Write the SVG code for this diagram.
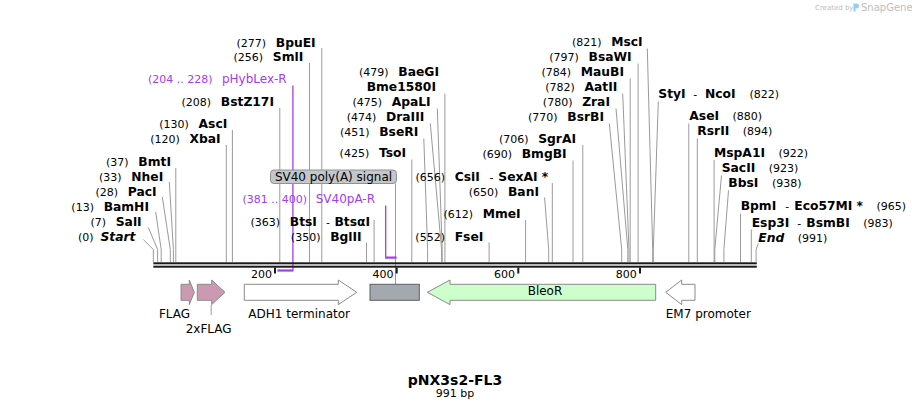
<svg xmlns="http://www.w3.org/2000/svg" width="912" height="411" viewBox="0 0 912 411">
<style>
text{font-family:"DejaVu Sans",Verdana,sans-serif;fill:#000}
.n{font-size:11px;font-weight:normal}
.b{font-size:12.3px;font-weight:bold}
.i{font-style:italic}
.p{fill:#a23cf0}
.f{font-size:12px}
.cut{fill:none;stroke:#9a9a9a;stroke-width:1}
.pl{fill:none;stroke:#a23cf0;stroke-width:1.3}
.pb{fill:none;stroke:#a23cf0;stroke-width:2.2}
.ft{stroke:#8a8a8a;stroke-width:1}
.wm{fill:#bdbdbd}
</style>
<rect width="912" height="411" fill="#fff"/>

<g id="watermark">
<text class="wm" x="815" y="10" font-size="7">Created by</text>
<path d="M853.5,3.5 h3 a2.5,2.5 0 0 1 0,5 h-1 v3 h-2 z" fill="#8fd0f0"/>
<text class="wm" x="861" y="11" font-size="10">SnapGene</text>
</g>

<g id="connectors">
<path class="cut" d="M143.3,239.5 L153.3,249.5 V262"/>
<path class="cut" d="M148.3,227.5 L157.6,249.5 V262"/>
<path class="cut" d="M155.7,212 L161.2,249.5 V262"/>
<path class="cut" d="M162.3,197 L170.3,249.5 V262"/>
<path class="cut" d="M169.3,182 L173.4,249.5 V262"/>
<path class="cut" d="M175.8,168 V262"/>
<path class="cut" d="M226.3,145 V262"/>
<path class="cut" d="M232.4,130 V262"/>
<path class="cut" d="M279.8,108 V262"/>
<path class="cut" d="M309.5,63 V262"/>
<path class="cut" d="M321.8,48 V262"/>
<path class="cut" d="M374.1,220 V262"/>
<path class="cut" d="M366.5,242.5 V262"/>
<path class="cut" d="M395.5,183.5 V284"/>
<path class="cut" d="M411.8,159.5 V262"/>
<path class="cut" d="M423.8,138.5 L427.6,249.5 V262"/>
<path class="cut" d="M430.3,123.5 L441.6,249.5 V262"/>
<path class="cut" d="M437.3,108.5 L442.2,249.5 V262"/>
<path class="cut" d="M444.9,93.5 V262"/>
<path class="cut" d="M489.1,242.5 V262"/>
<path class="cut" d="M525.6,220 V262"/>
<path class="cut" d="M544.6,197.5 L548.7,249.5 V262"/>
<path class="cut" d="M552.3,183 V262"/>
<path class="cut" d="M573.0,160.5 V262"/>
<path class="cut" d="M582.8,145 V262"/>
<path class="cut" d="M609.3,123.5 L621.7,249.5 V262"/>
<path class="cut" d="M616,108.5 L627.8,249.5 V262"/>
<path class="cut" d="M622.7,93.5 L629.0,249.5 V262"/>
<path class="cut" d="M630.2,78.5 V262"/>
<path class="cut" d="M638.1,63.5 V262"/>
<path class="cut" d="M647.3,48.5 L652.7,249.5 V262"/>
<path class="cut" d="M658.3,101.5 L653.3,249.5 V262"/>
<path class="cut" d="M688.8,123.5 V262"/>
<path class="cut" d="M697.3,138.5 V262"/>
<path class="cut" d="M714.1,160 V262"/>
<path class="cut" d="M721.5,175.5 L714.8,249.5 V262"/>
<path class="cut" d="M728.5,190.5 L723.9,249.5 V262"/>
<path class="cut" d="M740.5,213.5 V262"/>
<path class="cut" d="M751.3,229.5 V262"/>
<path class="cut" d="M758.3,243.5 L756.1,249.5 V262"/>
<path class="cut" d="M211.2,305 V315"/>
<path class="pl" d="M292.9,85.5 V270.5"/>
<path class="pb" d="M277.4,270.5 H293.3"/>
<path class="pl" d="M385.7,205.5 V257.6"/>
<path class="pb" d="M385.1,257.6 H396.6"/>
</g>

<g id="backbone">
<rect x="153.3" y="262.3" width="603.5" height="2" fill="#1a1a1a"/>
<rect x="153.3" y="265.7" width="603.5" height="2" fill="#1a1a1a"/>
</g>

<g id="ruler">
<path d="M275,267.5 V273.5 M396.7,267.5 V273.5 M518.3,267.5 V273.5 M640,267.5 V273.5" stroke="#1a1a1a" stroke-width="2"/>
<text class="n" x="272" y="277.5" text-anchor="end">200</text>
<text class="n" x="393.5" y="277.5" text-anchor="end">400</text>
<text class="n" x="515" y="277.5" text-anchor="end">600</text>
<text class="n" x="636.8" y="277.5" text-anchor="end">800</text>
</g>

<g id="site-start"><text x="135.5" y="241" text-anchor="end"><tspan class="n">(0)</tspan><tspan class="b i" dx="7">Start</tspan></text></g>
<g id="site-SalI"><text x="141.7" y="226" text-anchor="end"><tspan class="n">(7)</tspan><tspan class="b" dx="9.7">SalI</tspan></text></g>
<g id="site-BamHI"><text x="149" y="211" text-anchor="end"><tspan class="n">(13)</tspan><tspan class="b" dx="9.7">BamHI</tspan></text></g>
<g id="site-PacI"><text x="156.7" y="196" text-anchor="end"><tspan class="n">(28)</tspan><tspan class="b" dx="9.7">PacI</tspan></text></g>
<g id="site-NheI"><text x="163.3" y="181" text-anchor="end"><tspan class="n">(33)</tspan><tspan class="b" dx="9.7">NheI</tspan></text></g>
<g id="site-BmtI"><text x="171" y="166" text-anchor="end"><tspan class="n">(37)</tspan><tspan class="b" dx="9.7">BmtI</tspan></text></g>
<g id="site-XbaI"><text x="220.7" y="143" text-anchor="end"><tspan class="n">(120)</tspan><tspan class="b" dx="9.7">XbaI</tspan></text></g>
<g id="site-AscI"><text x="227.3" y="128" text-anchor="end"><tspan class="n">(130)</tspan><tspan class="b" dx="9.7">AscI</tspan></text></g>
<g id="site-BstZ17I"><text x="274" y="106" text-anchor="end"><tspan class="n">(208)</tspan><tspan class="b" dx="9.7">BstZ17I</tspan></text></g>
<g id="primer-pHybLex-R"><text class="p" x="286.7" y="82.5" text-anchor="end"><tspan class="n">(204 .. 228)</tspan><tspan class="f" dx="9.4">pHybLex-R</tspan></text></g>
<g id="site-SmlI"><text x="303.3" y="61" text-anchor="end"><tspan class="n">(256)</tspan><tspan class="b" dx="9.7">SmlI</tspan></text></g>
<g id="site-BpuEI"><text x="315.7" y="46.5" text-anchor="end"><tspan class="n">(277)</tspan><tspan class="b" dx="9.7">BpuEI</tspan></text></g>

<g id="site-BaeGI"><text x="439" y="76" text-anchor="end"><tspan class="n">(479)</tspan><tspan class="b" dx="9.7">BaeGI</tspan></text></g>
<g id="site-Bme1580I"><text class="b" x="436" y="91" text-anchor="end">Bme1580I</text></g>
<g id="site-ApaLI"><text x="430.7" y="106" text-anchor="end"><tspan class="n">(475)</tspan><tspan class="b" dx="9.7">ApaLI</tspan></text></g>
<g id="site-DraIII"><text x="424.3" y="121" text-anchor="end"><tspan class="n">(474)</tspan><tspan class="b" dx="9.7">DraIII</tspan></text></g>
<g id="site-BseRI"><text x="418.3" y="136" text-anchor="end"><tspan class="n">(451)</tspan><tspan class="b" dx="9.7">BseRI</tspan></text></g>
<g id="site-TsoI"><text x="406" y="157" text-anchor="end"><tspan class="n">(425)</tspan><tspan class="b" dx="9.7">TsoI</tspan></text></g>

<g id="feature-label-SV40">
<rect x="270.5" y="170" width="126" height="13.5" rx="3.5" fill="#c3c6ca" stroke="#8e9297"/>
<text class="f" x="333.5" y="181" text-anchor="middle">SV40 poly(A) signal</text>
</g>
<g id="primer-SV40pA-R"><text class="p" x="375" y="202.5" text-anchor="end"><tspan class="n">(381 .. 400)</tspan><tspan class="f" dx="8.6">SV40pA-R</tspan></text></g>
<g id="site-BtsI"><text x="370" y="226" text-anchor="end"><tspan class="n">(363)</tspan><tspan class="b" dx="9.7">BtsI</tspan><tspan class="n" dx="9">-</tspan><tspan class="b" dx="4.5">BtsαI</tspan></text></g>
<g id="site-BglII"><text x="361.7" y="241" text-anchor="end"><tspan class="n">(350)</tspan><tspan class="b" dx="9.7">BglII</tspan></text></g>

<g id="site-FseI"><text x="483.3" y="241" text-anchor="end"><tspan class="n">(552)</tspan><tspan class="b" dx="9.7">FseI</tspan></text></g>
<g id="site-MmeI"><text x="520.7" y="218" text-anchor="end"><tspan class="n">(612)</tspan><tspan class="b" dx="9.7">MmeI</tspan></text></g>
<g id="site-BanI"><text x="539" y="196" text-anchor="end"><tspan class="n">(650)</tspan><tspan class="b" dx="9.7">BanI</tspan></text></g>
<g id="site-CsiI"><text x="548.3" y="181" text-anchor="end"><tspan class="n">(656)</tspan><tspan class="b" dx="9.7">CsiI</tspan><tspan class="n" dx="9.5">-</tspan><tspan class="b" dx="5">SexAI *</tspan></text></g>
<g id="site-BmgBI"><text x="566.7" y="158" text-anchor="end"><tspan class="n">(690)</tspan><tspan class="b" dx="9.7">BmgBI</tspan></text></g>
<g id="site-SgrAI"><text x="576" y="143" text-anchor="end"><tspan class="n">(706)</tspan><tspan class="b" dx="9.7">SgrAI</tspan></text></g>
<g id="site-BsrBI"><text x="604" y="121" text-anchor="end"><tspan class="n">(770)</tspan><tspan class="b" dx="9.7">BsrBI</tspan></text></g>
<g id="site-ZraI"><text x="610" y="106" text-anchor="end"><tspan class="n">(780)</tspan><tspan class="b" dx="9.7">ZraI</tspan></text></g>
<g id="site-AatII"><text x="617.3" y="91" text-anchor="end"><tspan class="n">(782)</tspan><tspan class="b" dx="9.7">AatII</tspan></text></g>
<g id="site-MauBI"><text x="624" y="76" text-anchor="end"><tspan class="n">(784)</tspan><tspan class="b" dx="9.7">MauBI</tspan></text></g>
<g id="site-BsaWI"><text x="631.7" y="61" text-anchor="end"><tspan class="n">(797)</tspan><tspan class="b" dx="9.7">BsaWI</tspan></text></g>
<g id="site-MscI"><text x="642.7" y="46" text-anchor="end"><tspan class="n">(821)</tspan><tspan class="b" dx="9.7">MscI</tspan></text></g>

<g id="site-StyI"><text x="658.3" y="98"><tspan class="b">StyI</tspan><tspan class="n" dx="7.6">-</tspan><tspan class="b" dx="7.7">NcoI</tspan><tspan class="n" dx="14">(822)</tspan></text></g>
<g id="site-AseI"><text x="689.3" y="120"><tspan class="b">AseI</tspan><tspan class="n" dx="13.5">(880)</tspan></text></g>
<g id="site-RsrII"><text x="697.3" y="135"><tspan class="b">RsrII</tspan><tspan class="n" dx="13.5">(894)</tspan></text></g>
<g id="site-MspA1I"><text x="714" y="156.5"><tspan class="b">MspA1I</tspan><tspan class="n" dx="13.5">(922)</tspan></text></g>
<g id="site-SacII"><text x="721.7" y="172"><tspan class="b">SacII</tspan><tspan class="n" dx="13.5">(923)</tspan></text></g>
<g id="site-BbsI"><text x="728.3" y="187"><tspan class="b">BbsI</tspan><tspan class="n" dx="13.5">(938)</tspan></text></g>
<g id="site-BpmI"><text x="740.7" y="210"><tspan class="b">BpmI</tspan><tspan class="n" dx="9">-</tspan><tspan class="b" dx="5">Eco57MI *</tspan><tspan class="n" dx="13.5">(965)</tspan></text></g>
<g id="site-Esp3I"><text x="751.7" y="226.5"><tspan class="b">Esp3I</tspan><tspan class="n" dx="8">-</tspan><tspan class="b" dx="5">BsmBI</tspan><tspan class="n" dx="13.5">(983)</tspan></text></g>
<g id="site-end"><text x="758.3" y="241.5"><tspan class="b i">End</tspan><tspan class="n" dx="13.5">(991)</tspan></text></g>

<g id="feature-FLAG">
<path class="ft" d="M181,284.3 H189.3 V280 L194.3,292.3 L189.3,304.6 V300.3 H181 Z" fill="#cc99b3"/>
<text class="f" x="174.5" y="317.7" text-anchor="middle">FLAG</text>
</g>
<g id="feature-2xFLAG">
<path class="ft" d="M197.3,284.3 H211.7 V280 L225,292.3 L211.7,304.6 V300.3 H197.3 Z" fill="#cc99b3"/>
<text class="f" x="208.7" y="333.3" text-anchor="middle">2xFLAG</text>
</g>
<g id="feature-ADH1">
<path class="ft" d="M244.3,284.3 H338.3 V280 L356.7,292.3 L338.3,304.6 V300.3 H244.3 Z" fill="#ffffff"/>
<text class="f" x="299.2" y="317.7" text-anchor="middle">ADH1 terminator</text>
</g>
<g id="feature-SV40">
<rect x="370" y="284.3" width="49.3" height="16" fill="#a4a9b0" stroke="#5a5f66"/>
</g>
<g id="feature-BleoR">
<path class="ft" d="M655.7,284.3 H450 V280 L427.3,292.3 L450,304.6 V300.3 H655.7 Z" fill="#ccffcc"/>
<text class="f" x="545" y="295" text-anchor="middle">BleoR</text>
</g>
<g id="feature-EM7">
<path class="ft" d="M695,284.3 H681.7 V280 L665.7,292.3 L681.7,304.6 V300.3 H695 Z" fill="#ffffff"/>
<text class="f" x="708.3" y="318.3" text-anchor="middle">EM7 promoter</text>
</g>

<g id="title">
<text x="455" y="385" text-anchor="middle" font-size="14" font-weight="bold">pNX3s2-FL3</text>
<text class="n" x="455" y="396.7" text-anchor="middle">991 bp</text>
</g>
</svg>
